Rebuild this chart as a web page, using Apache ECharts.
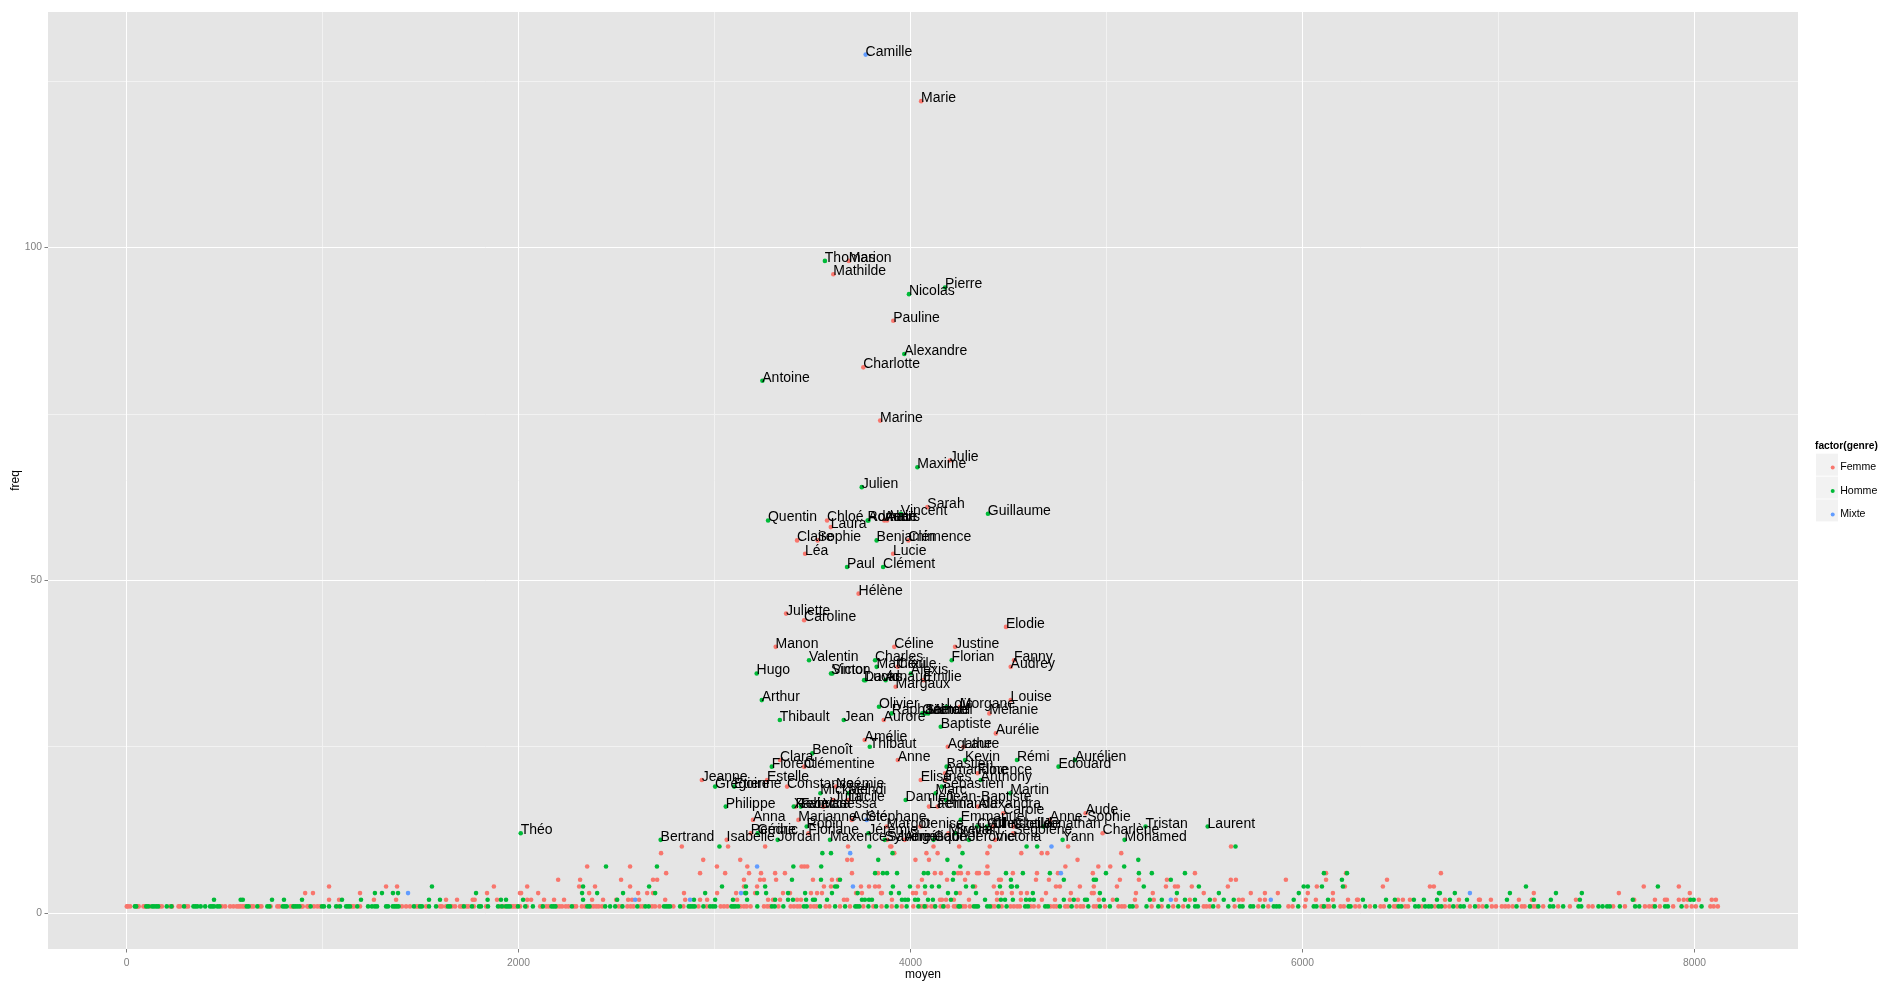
<!DOCTYPE html>
<html><head><meta charset="utf-8"><style>html,body{margin:0;padding:0;background:#fff}#c{width:1885px;height:983px}</style>
<script src="https://cdn.jsdelivr.net/npm/echarts@6/dist/echarts.min.js"></script></head>
<body><div id="c"></div>
<script>
const xTicks=[0,2000,4000,6000,8000], xMinor=[1000,3000,5000,7000];
const yTicks=[0,50,100], yMinor=[25,75,125];
const genres=["Femme","Homme","Mixte"];

const femme1=[1,6,18,55,62,86,96,117,169,180,222,232,265,273,304,314,486,503,528,545,562,572,582,593,603,637,647,678,688,735,769,780,837,848,892,899,922,929,956,973,987,1079,1150,1160,1191,1405,1426,1446,1477,1487,1528,1599,1609,1630,1660,1676,1701,1711,1735,1745,1772,1834,1905,1925,1966,1976,1987,2008,2042,2110,2119,2141,2154,2195,2209,2222,2241,2255,2283,2294,2323,2340,2368,2382,2396,2409,2426,2511,2525,2555,2572,2586,2620,2634,2681,2696,2719,2790,2841,2918,2960,3031,3048,3065,3133,3150,3164,3184,3252,3269,3283,3326,3388,3405,3422,3436,3490,3507,3521,3567,3586,3640,3691,3759,3810,3852,3904,3955,4014,4051,4065,4082,4106,4123,4153,4170,4191,4221,4232,4266,4279,4303,4415,4429,4465,4510,4527,4544,4558,4612,4629,4653,4714,4731,4745,4789,4803,4847,4867,4881,4935,4949,4992,5061,5078,5092,5153,5230,5281,5340,5391,5496,5510,5527,5570,5654,5774,5825,5928,5949,6012,6096,6106,6126,6137,6194,6211,6269,6290,6344,6398,6415,6466,6477,6524,6538,6609,6675,6727,6749,6789,6854,6898,6919,6966,6987,7017,7034,7051,7072,7119,7133,7163,7180,7194,7228,7304,7364,7459,7480,7585,7645,7747,7769,7786,7823,7891,7959,7986,8007,8081,8098,8119];
const homme1=[42,49,100,110,130,140,151,161,205,229,293,341,351,361,378,401,426,436,446,463,474,613,623,667,718,729,797,807,817,851,861,871,882,939,997,1007,1033,1069,1089,1120,1130,1140,1177,1232,1252,1267,1278,1324,1334,1358,1368,1378,1388,1466,1497,1507,1543,1579,1640,1650,1721,1762,1798,1808,1844,1895,1915,1936,1946,1956,1997,2034,2073,2124,2168,2178,2188,2272,2351,2362,2442,2467,2493,2530,2606,2647,2664,2742,2753,2763,2773,2824,2868,2878,2889,2899,2943,2977,2991,3003,3086,3096,3106,3120,3218,3293,3307,3351,3456,3470,3538,3615,3666,3718,3728,3739,3785,3824,3878,3929,3980,4040,4072,4126,4167,4245,4252,4323,4334,4344,4391,4405,4449,4490,4585,4599,4687,4701,4762,4822,4907,4966,5017,5119,5133,5204,5264,5315,5366,5417,5452,5466,5544,5621,5680,5694,5734,5748,5799,5853,5867,5881,5978,6057,6071,6109,6160,6235,6245,6320,6370,6443,6490,6504,6575,6592,6626,6643,6657,6694,6708,6769,6806,6823,6880,6939,7092,7160,7203,7262,7279,7330,7408,7422,7510,7531,7554,7568,7619,7697,7718,7798,7850,7864,7934,8036];

const femme2=[1033,1084,1262,1375,1630,1686,1766,1776,1890,2044,2064,2130,2181,2232,2375,2431,2498,2559,2579,2615,2748,2850,2926,2962,3115,3273,3298,3334,3421,3441,3660,3676,3905,4150,4160,4181,4221,4298,4441,4563,4670,4737,4813,4854,4961,5032,5145,5241,5354,5425,5552,5675,5695,5782,5808,6017,6068,6155,6232,6278,6283,6487,6512,6548,6727,6798,6900,6905,6961,7104,7170,7395,7692,7798,7849,7859,7920,7945,7966,8022,8088,8109];
const homme2=[446,582,593,742,803,895,1099,1196,1543,1599,1842,1910,1936,2023,2329,2503,2895,3003,3094,3166,3309,3375,3400,3467,3502,3512,3574,3752,3767,3788,3803,3956,3972,3987,4023,4038,4089,4114,4206,4380,4461,4482,4522,4589,4609,4629,4782,4833,4890,4900,4986,5053,5221,5282,5400,5451,5527,5598,5649,5955,6130,6308,6426,6471,6568,6619,6686,6752,6839,7043,7180,7267,7415,7685,7979,7996];
const mixte2=[2595,2875,5328,5838];

const femme3=[911,951,1191,1839,2007,2013,2100,2360,2610,2656,2686,2844,3013,3110,3207,3349,3385,3492,3523,3548,3722,3752,3849,3854,4012,4028,4074,4252,4441,4466,4517,4563,4594,4691,4818,4925,4935,5150,5236,5496,5736,5808,5874,6027,6155,7180,7614,7976];
const homme3=[1267,1303,1359,1385,1783,2324,2401,2533,2697,2952,3156,3161,3217,3263,3375,3462,3599,3730,3900,3941,4191,4232,4334,4624,4966,5359,5573,5981,6696,6701,6777,7058,7293,7425];
const mixte3=[1436,3135,6854];

const femme4=[1033,1324,1380,1874,2044,2309,2390,2569,3150,3217,3558,3594,3747,3788,3819,3839,4038,4329,4425,4742,4762,4864,4935,5053,5303,5349,5364,5435,5619,6073,6216,6410,6650,6670,7741,7920];
const homme4=[1558,2329,2666,3038,3160,3258,3615,3625,3910,3997,4074,4109,4145,4283,4318,4456,4512,4517,4543,5190,5471,6006,6027,6099,6206,7140,7813];
const mixte4=[3706];

const femme5=[2202,2314,2523,2686,2707,3150,3232,3252,3314,3502,3599,3630,4058,4186,4278,4451,4461,4640,4706,5068,5165,5308,5634,5660,5915,6120,6431];
const homme5=[3395,3543,3640,4216,4512,4782,4935,4946,5328,6201];

const femme6=[2753,2926,3054,3176,3237,3309,3359,3701,3834,4124,4155,4242,4257,4293,4339,4349,4385,4395,4522,4645,4752,4930,5451,6120,6222,6706];
const homme6=[3819,3859,3880,3931,4068,4089,4221,4487,4573,4711,4997,5165,5231,5400,6109,6227];
const mixte6=[4767];

const femme7=[2350,2569,3012,3167,3444,3458,3473,4392,4790,4958,5019];
const homme7=[2446,2706,3402,3544,4254,5090];
const mixte7=[3217];

const femme8=[2942,3131,3677,3700,4025,4094,4852];
const homme8=[3835,4188,5162];

const femme9=[2727,3917,4081,4138,4392,4565,4669,4698,5075];
const homme9=[3550,3594,3908,4265];
const mixte9=[3692];

const femme10=[2833,3069,3258,3681,3896,3902,4117,4248,4404,4804,5635];
const homme10=[3025,3790,4592,4646,5658];
const mixte10=[4719];

const femmeNamed=[["Marie",4054,122],["Marion",3685,98],["Mathilde",3606,96],["Pauline",3912,89],["Charlotte",3759,82],["Marine",3845,74],["Julie",4201,68],["Sarah",4086,61],["Chloé",3574,59],["Anaïs",3866,59],["Alice",3880,59],["Laura",3593,58],["Claire",3421,56],["Sophie",3526,56],["Clémence",3989,56],["Léa",3462,54],["Lucie",3911,54],["Hélène",3735,48],["Juliette",3365,45],["Caroline",3457,44],["Elodie",4487,43],["Manon",3312,40],["Céline",3917,40],["Justine",4227,40],["Fanny",4528,38],["Audrey",4511,37],["Cécile",3934,37],["Emilie",4067,35],["Margaux",3924,34],["Louise",4511,32],["Morgane",4252,31],["Mélanie",4402,30],["Aurore",3863,29],["Aurélie",4435,27],["Amélie",3766,26],["Agathe",4190,25],["Laure",4270,25],["Clara",3334,23],["Anne",3935,23],["Clémentine",3457,22],["Amandine",4176,21],["Florence",4342,21],["Jeanne",2935,20],["Estelle",3268,20],["Elise",4052,20],["Inès",4176,20],["Constance",3370,19],["Noémie",3620,19],["Lucile",3683,17],["Julia",3606,17],["Rebecca",3414,16],["Vanessa",3555,16],["Laetitia",4094,16],["Fernanda",4138,16],["Alexandra",4344,16],["Carole",4473,15],["Aude",4893,15],["Anna",3196,14],["Adèle",3700,14],["Marianne",3428,14],["Anne-Sophie",4711,14],["Margot",3878,13],["Denise",4050,13],["Christelle",4420,13],["Clotilde",4524,13],["Charlène",4980,12],["Perrine",3185,12],["Floriane",3479,12],["Mireille",4193,12],["Ségolène",4524,12],["Isabelle",3062,11],["Sandrine",3880,11],["Angélique",3970,11],["Victoria",4431,11]];
const hommeNamed=[["Thomas",3563,98],["Pierre",4176,94],["Nicolas",3992,93],["Alexandre",3968,84],["Antoine",3244,80],["Maxime",4035,67],["Julien",3751,64],["Vincent",3951,60],["Guillaume",4395,60],["Quentin",3273,59],["Romain",3781,59],["Adrien",3785,59],["Benjamin",3827,56],["Paul",3676,52],["Clément",3860,52],["Valentin",3482,38],["Charles",3819,38],["Florian",4210,38],["Mathieu",3827,37],["Hugo",3215,36],["Victor",3601,36],["Simon",3594,36],["Alexis",4002,36],["David",3763,35],["Lucas",3770,35],["Arnaud",3873,35],["Arthur",3241,32],["Olivier",3839,31],["Loïc",4184,31],["Raphaël",3904,30],["Gaëtan",4060,30],["Samuel",4075,30],["Marcel",4090,30],["Thibault",3333,29],["Jean",3659,29],["Baptiste",4154,28],["Thibaut",3792,25],["Benoît",3499,24],["Kevin",4278,23],["Rémi",4543,23],["Aurélien",4839,23],["Edouard",4755,22],["Florent",3292,22],["Bastien",4184,22],["Anthony",4358,20],["Grégoire",3003,19],["Etienne",3100,19],["Sébastien",4159,19],["Mickaël",3540,18],["Mehdi",3683,18],["Marc",4128,18],["Martin",4509,18],["Damien",3975,17],["Jean-Baptiste",4181,17],["Philippe",3057,16],["Xavier",3404,16],["Fabrice",3440,16],["Emmanuel",4256,14],["Tristan",5199,13],["Laurent",5516,13],["Jonathan",4677,13],["Robin",3470,13],["Cyril",4340,13],["Gilles",4390,13],["Cédric",3220,12],["Théo",2011,12],["Jérémie",3785,12],["Sylvain",4228,12],["Mohamed",5092,11],["Yann",4776,11],["Jérôme",4298,11],["Bertrand",2725,11],["Jordan",3322,11],["Maxence",3589,11],["Sylvère",3868,11],["Gabriel",4117,11]];
const mixteNamed=[["Camille",3771,129],["Stéphane",3776,14]];

const FONT='"Liberation Sans",Arial,sans-serif';
const COL={Femme:'#F8766D',Homme:'#00BA38',Mixte:'#619CFF'};
function rows(list){let out=[];list.forEach(([f,xs])=>xs.forEach(x=>out.push({value:[x,f]})));return out;}
function named(list){return list.map(([n,x,f])=>({value:[x,f],name:n,label:{show:true}}));}
const dataF=rows([[1,femme1],[2,femme2],[3,femme3],[4,femme4],[5,femme5],[6,femme6],[7,femme7],[8,femme8],[9,femme9],[10,femme10]]).concat(named(femmeNamed));
const dataH=rows([[1,homme1],[2,homme2],[3,homme3],[4,homme4],[5,homme5],[6,homme6],[7,homme7],[8,homme8],[9,homme9],[10,homme10]]).concat(named(hommeNamed));
const dataM=rows([[2,mixte2],[3,mixte3],[4,mixte4],[6,mixte6],[7,mixte7],[9,mixte9],[10,mixte10]]).concat(named(mixteNamed));

function mk(name,data){return{name,type:'scatter',data,symbol:'circle',symbolSize:4.6,z:3,
  itemStyle:{color:COL[name],opacity:1},
  label:{show:false,formatter:'{b}',position:[2.2,-0.6],align:'left',verticalAlign:'middle',color:'#000',fontSize:14,fontFamily:FONT},
  emphasis:{disabled:true},silent:true,animation:false};}
const gridLines=[].concat(
  xMinor.map(v=>({xAxis:v,lineStyle:{color:'#F2F2F2',width:1,type:'solid'}})),
  yMinor.map(v=>({yAxis:v,lineStyle:{color:'#F2F2F2',width:1,type:'solid'}})),
  xTicks.map(v=>({xAxis:v,lineStyle:{color:'#FFFFFF',width:1,type:'solid'}})),
  yTicks.map(v=>({yAxis:v,lineStyle:{color:'#FFFFFF',width:1,type:'solid'}})));
const chart=echarts.init(document.getElementById('c'),null,{renderer:'canvas'});
const keyTop=[453.7,476.6,499.4];
const g=[{type:'text',left:1815,top:441,style:{text:'factor(genre)',font:'bold 10.2px '+FONT,fill:'#000'}}];
keyTop.forEach(t=>g.push({type:'rect',shape:{x:1816,y:t,width:22,height:22},style:{fill:'#F2F2F2'},z:0}));
chart.setOption({
  animation:false,
  backgroundColor:'#fff',
  textStyle:{fontFamily:FONT},
  grid:{left:48,right:87,top:12,bottom:34,show:true,backgroundColor:'#E5E5E5',borderWidth:0,containLabel:false,outerBoundsMode:'none'},
  xAxis:{type:'value',min:-401,max:8528,name:'moyen',nameLocation:'middle',nameGap:20,nameMoveOverlap:false,
    nameTextStyle:{color:'#000',fontSize:12,fontFamily:FONT},
    axisLine:{show:false,onZero:false},splitLine:{show:false},
    axisTick:{show:true,length:3.5,inside:false,lineStyle:{color:'#7F7F7F',width:1},customValues:xTicks},
    axisLabel:{color:'#7F7F7F',fontSize:10.3,margin:9.5,fontFamily:FONT,customValues:xTicks,formatter:v=>String(v),hideOverlap:false}},
  yAxis:{type:'value',min:-5.4,max:135.4,name:'freq',nameLocation:'middle',nameGap:26,nameRotate:90,nameMoveOverlap:false,
    nameTextStyle:{color:'#000',fontSize:12,fontFamily:FONT},
    axisLine:{show:false,onZero:false},splitLine:{show:false},
    axisTick:{show:true,length:3.5,lineStyle:{color:'#7F7F7F',width:1},customValues:yTicks},
    axisLabel:{color:'#7F7F7F',fontSize:10.3,margin:6,fontFamily:FONT,customValues:yTicks,formatter:v=>String(v)}},
  legend:{show:true,orient:'vertical',left:1825.7,top:457,itemWidth:4,itemHeight:4,itemGap:12.5,icon:'circle',selectedMode:false,
    data:genres,textStyle:{color:'#000',fontSize:10.6,fontFamily:FONT,padding:[0,0,0,0.5]}},
  graphic:g,
  series:[
    {name:'grid',type:'scatter',data:[],z:1,silent:true,animation:false,
     markLine:{z:1,silent:true,animation:false,symbol:'none',label:{show:false},emphasis:{disabled:true},data:gridLines}},
    mk('Femme',dataF),mk('Homme',dataH),mk('Mixte',dataM)
  ]});
</script></body></html>
